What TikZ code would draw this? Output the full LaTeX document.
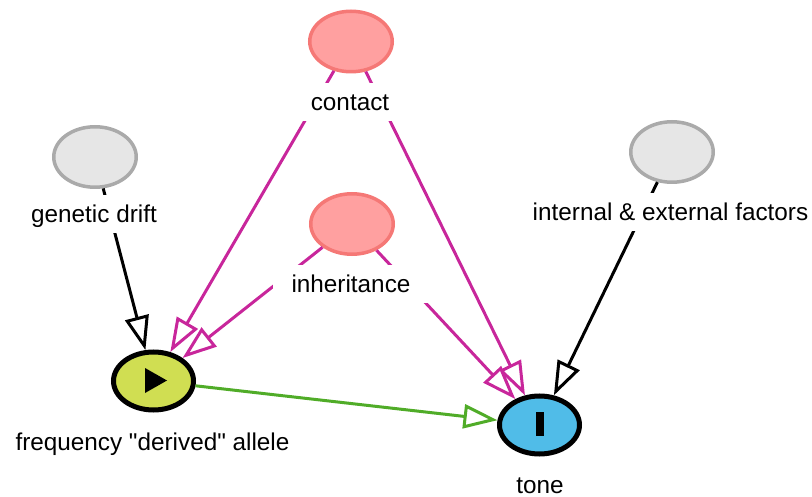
\documentclass[tikz,border=0pt]{standalone}
\usepackage{fontspec}
\setmainfont{Liberation Sans}
\usetikzlibrary{shapes.geometric,arrows.meta}
\newcommand{\straightdq}{\XeTeXglyph\XeTeXcharglyph34\relax}
\definecolor{pinkfill}{RGB}{255,160,160}
\definecolor{pinkdraw}{RGB}{245,120,118}
\definecolor{grayfill}{RGB}{230,230,230}
\definecolor{graydraw}{RGB}{170,170,170}
\definecolor{expfill}{RGB}{208,222,82}
\definecolor{outfill}{RGB}{80,188,232}
\definecolor{biascol}{RGB}{200,38,155}
\definecolor{causalcol}{RGB}{80,172,40}
\begin{document}
\begin{tikzpicture}[x=1pt,y=-1pt,
  var/.style={ellipse, inner sep=0pt, minimum width=82.5pt, minimum height=60.5pt, line width=3.5pt},
  latent/.style={var, draw=graydraw, fill=grayfill},
  cause/.style={var, draw=pinkdraw, fill=pinkfill},
  keyvar/.style={var, draw=black, line width=5pt, minimum width=80pt, minimum height=58pt},
  lbl/.style={fill=white, inner xsep=19pt, inner ysep=0pt, text height=28pt, text depth=10pt, anchor=base, font=\fontsize{24.3pt}{29pt}\selectfont},
  edge/.style={line width=3pt, -{Triangle[length=34pt,width=24pt,fill=white]}},
]
\useasboundingbox (0,0) rectangle (812,497);
% variables
\node[cause] (contact) at (351,41.5) {};
\node[cause] (inher) at (352,224) {};
\node[latent] (drift) at (95,157) {};
\node[latent] (factors) at (672,152) {};
\node[keyvar, fill=expfill] (freq) at (153.5,381) {};
\node[keyvar, fill=outfill] (tone) at (539.5,425) {};
% icons
\fill (145,368) -- (145,393) -- (167,380.5) -- cycle;
\fill (535.5,412) rectangle (543.5,436);
% edges
\draw[edge, draw=biascol] (contact) -- (freq);
\draw[edge, draw=biascol] (contact) -- (tone);
\draw[edge, draw=biascol] (inher) -- (freq);
\draw[edge, draw=biascol] (inher) -- (tone);
\draw[edge, draw=black] (drift) -- (freq);
\draw[edge, draw=black] (factors) -- (tone);
\draw[edge, draw=causalcol] (freq) -- (tone);
% labels
\node[lbl] (contactl) at (350,111) {contact};
\node[lbl] (inherl) at (351,293) {inheritance};
\node[lbl] (driftl) at (94,223) {genetic drift};
\node[lbl] (factorsl) at (670.5,221) {internal \& external factors};
\node[lbl] (freql) at (152.5,450) {frequency \straightdq derived\straightdq{} allele};
\node[lbl] (tonel) at (540,493) {tone};
\end{tikzpicture}
\end{document}
